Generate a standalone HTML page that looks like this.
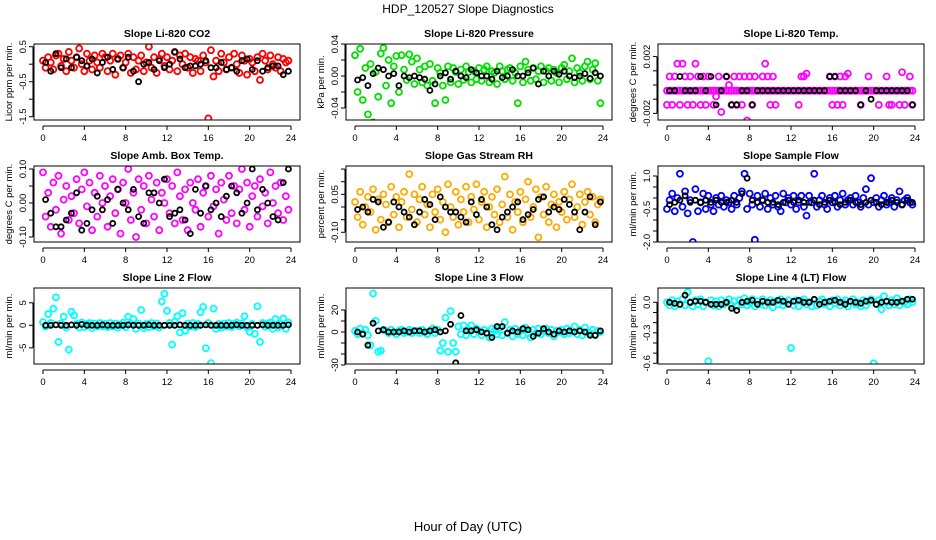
<!DOCTYPE html>
<html><head><meta charset="utf-8"><style>
html,body{margin:0;padding:0;background:#fff;}
svg{display:block;font-family:"Liberation Sans",sans-serif;}
</style></head><body>
<svg id="chart" width="936" height="540" viewBox="0 0 936 540">
<text x="468" y="13" text-anchor="middle" font-size="12">HDP_120527  Slope Diagnostics</text>
<text x="468" y="531" text-anchor="middle" font-size="13">Hour of Day (UTC)</text>
</svg>
<script>
const panelTitles=["Slope Li-820 CO2","Slope Li-820 Pressure","Slope Li-820 Temp.","Slope Amb. Box Temp.","Slope Gas Stream RH","Slope Sample Flow","Slope Line 2 Flow","Slope Line 3 Flow","Slope Line 4 (LT) Flow"];
const yTitles=["Licor ppm per min.","kPa per min.","degrees C per min.","degrees C per min.","percent per min.","ml/min per min.","ml/min per min.","ml/min per min.","ml/min per min."];
const xTicks=[0,4,8,12,16,20,24];
const colorStep=0.25, blackStep=0.5;

const co2Col=[0.1,-0.1,0.2,0.05,-0.15,0.25,0.3,-0.05,0.15,-0.2,0.35,0.1,-0.1,0.2,0.45,0.0,-0.2,0.3,0.1,-0.15,0.25,0.05,-0.1,0.3,
0.2,-0.2,0.1,0.3,-0.3,0.15,0.25,-0.1,0.05,0.3,-0.25,0.2,-0.15,0.1,0.25,-0.2,0.05,0.5,-0.1,0.2,-0.25,0.15,0.3,-0.05,
0.2,-0.15,0.1,0.35,-0.2,0.25,0.0,0.3,-0.1,0.2,-0.25,0.15,0.1,-0.2,0.25,0.05,-1.55,0.4,-0.35,0.1,-0.2,0.3,0.05,-0.15,
0.2,-0.1,0.3,0.0,-0.25,0.25,0.1,-0.3,0.15,0.05,-0.2,0.2,-0.45,0.3,0.1,-0.15,0.25,0.0,-0.1,0.2,-0.2,0.15,0.05,0.1];
const co2Blk=[0.05,-0.2,0.3,-0.1,0.15,-0.1,0.2,0.1,-0.05,0.15,-0.25,0.05,0.2,-0.15,0.15,-0.1,0.2,-0.2,-0.5,0.0,0.05,-0.15,0.1,-0.1,0.0,0.35,0.15,-0.1,-0.05,-0.05,0.0,0.1,-0.1,-0.1,0.05,-0.15,-0.1,-0.2,0.1,0.15,-0.15,0.1,-0.2,-0.1,-0.05,-0.05,-0.3,-0.2];

const presCol=[0.026,-0.020,0.034,-0.030,0.010,-0.048,0.015,-0.058,0.005,-0.026,0.028,0.035,-0.012,0.020,-0.034,0.012,0.025,-0.02,0.026,0.008,-0.005,0.027,0.018,-0.01,
0.022,0.008,-0.008,0.012,-0.012,0.015,-0.006,-0.034,0.010,0.004,-0.012,-0.030,0.012,-0.008,0.010,0.005,-0.010,0.008,-0.005,0.012,0.005,-0.008,0.006,-0.004,
0.010,-0.006,0.008,0.012,-0.008,0.006,0.004,-0.010,0.012,0.006,-0.004,0.008,0.010,-0.006,0.004,-0.034,0.012,-0.008,0.018,0.008,-0.006,0.010,-0.004,0.006,
0.012,-0.008,0.006,0.010,-0.006,0.008,0.004,-0.008,0.010,0.014,-0.004,0.006,0.022,-0.008,0.010,0.004,-0.006,0.012,0.018,-0.004,0.008,0.016,-0.006,-0.034];
const presBlk=[-0.005,-0.002,-0.012,0.003,0.01,0.008,0.0,0.003,-0.012,0.0,-0.002,0.0,-0.002,-0.004,-0.018,-0.01,0.0,0.004,-0.004,0.006,0.0,-0.002,0.008,0.004,0.0,0.0,-0.004,0.006,-0.002,0.0,0.008,0.0,0.0,0.004,0.01,-0.01,0.006,0.0,0.006,0.002,0.006,0.0,-0.002,0.0,0.003,-0.003,0.004,0.0];

const tempColA=new Array(96).fill(-0.0004);
const tempColB=[-0.0014,0.0006,-0.0014,0.0006,0.0015,-0.0014,0.0015,0.0006,-0.0014,0.0006,-0.0014,0.0015,0.0006,-0.0014,0.0006,-0.0014,0.0006,null,-0.0014,-0.0008,0.0006,-0.0019,0.0033,0.0006,
0.0,-0.0014,0.0006,-0.0014,0.0006,-0.0014,0.0006,-0.0025,0.0006,-0.0014,0.0006,null,null,0.0006,0.0015,0.0006,-0.0014,0.0006,-0.0014,null,null,null,null,null,
null,null,null,-0.0014,0.0006,0.0006,0.0008,null,null,null,null,null,null,null,null,0.0006,-0.0014,0.0006,-0.0014,0.0006,-0.0014,0.0006,0.0008,null,
null,null,null,-0.0014,null,null,0.0006,null,null,null,-0.0014,null,null,0.0006,-0.0014,-0.0014,null,null,-0.0014,0.0009,-0.0014,null,0.0006,-0.0014];
const tempBlk=[-0.0004,-0.0004,0.0006,-0.0004,-0.0004,-0.0004,0.0006,-0.0004,0.0006,-0.0014,-0.0004,0.0006,-0.0014,-0.0014,-0.0004,-0.0004,-0.0014,-0.0004,-0.0004,-0.0004,-0.0004,-0.0004,-0.0004,-0.0004,-0.0004,-0.0004,-0.0004,-0.0004,-0.0004,-0.0004,-0.0004,0.0006,0.0006,-0.0004,-0.0004,-0.0004,-0.0004,-0.0014,-0.0004,-0.0010,-0.0004,-0.0004,-0.0004,-0.0004,-0.0004,-0.0004,-0.0004,-0.0014];

const ambCol=[0.09,-0.04,0.03,-0.07,0.06,-0.02,0.08,-0.09,0.01,0.05,-0.05,0.02,-0.03,0.07,-0.06,0.04,0.09,-0.01,0.06,-0.08,0.03,-0.04,0.08,0.0,
0.05,-0.07,0.02,0.07,-0.03,0.04,-0.09,0.06,0.0,0.1,-0.05,0.03,-0.1,0.07,-0.02,0.05,-0.06,0.08,0.01,-0.04,0.06,-0.08,0.03,0.0,
0.07,-0.03,0.05,-0.06,0.09,0.02,-0.05,0.04,-0.08,0.06,0.0,-0.02,0.07,-0.07,0.03,0.05,-0.04,0.08,-0.01,0.04,-0.09,0.06,0.01,-0.05,
0.08,-0.03,0.05,-0.06,0.04,0.1,-0.02,0.06,-0.07,0.02,0.05,-0.04,0.07,-0.01,0.03,-0.06,0.09,0.0,0.05,-0.03,0.06,-0.05,0.02,-0.02];
const ambBlk=[0.01,-0.03,-0.07,-0.07,-0.05,-0.03,0.03,-0.08,-0.06,-0.02,0.02,-0.02,0.01,-0.06,0.04,0.0,-0.02,0.04,-0.04,-0.06,0.03,0.03,0.0,0.07,-0.04,-0.03,-0.02,-0.05,-0.09,0.04,-0.03,0.05,-0.02,0.0,-0.04,0.02,0.05,0.03,-0.03,0.0,0.1,-0.02,0.04,0.0,-0.04,-0.05,0.06,0.1];

const rhCol=[0.02,-0.04,0.06,-0.07,0.0,0.04,-0.02,0.07,-0.09,0.03,-0.05,0.05,0.01,-0.06,0.08,-0.03,0.04,-0.08,0.02,0.06,-0.04,0.13,-0.01,0.05,
-0.06,0.03,0.08,-0.03,0.01,-0.08,0.05,-0.02,0.07,-0.05,0.02,-0.1,0.09,0.0,-0.04,0.06,-0.07,0.03,-0.02,0.08,-0.06,0.04,-0.01,0.09,
-0.05,0.02,0.06,-0.08,0.0,0.04,-0.03,0.07,-0.06,0.01,0.12,-0.04,0.05,-0.09,0.02,-0.02,0.06,-0.06,0.03,0.1,-0.04,0.0,0.07,-0.12,
0.04,-0.03,0.08,-0.06,0.01,0.05,-0.08,0.02,-0.02,0.06,-0.05,0.03,0.09,-0.04,0.0,0.05,-0.07,0.02,0.06,-0.03,0.04,-0.06,0.01,0.03];
const rhBlk=[-0.01,0.0,-0.02,0.03,0.02,-0.08,-0.06,0.02,0.0,-0.02,-0.04,-0.07,-0.02,0.03,0.01,-0.05,0.04,0.0,-0.02,-0.02,-0.04,-0.06,0.02,-0.03,0.03,0.0,-0.07,-0.09,-0.04,-0.02,0.0,0.02,-0.05,-0.03,-0.01,0.03,0.04,-0.02,0.0,-0.01,0.03,0.01,-0.02,-0.09,-0.02,0.04,-0.07,0.02];

const sfCol=[-0.5,-0.1,0.2,-0.6,0.0,1.1,-0.4,0.3,-0.7,-0.1,-2.0,0.4,-0.6,-0.2,0.2,-0.5,0.1,-0.3,-0.6,0.0,-0.3,0.1,-0.4,-0.1,
-0.2,-0.5,0.1,-0.3,0.0,0.3,1.1,-0.5,0.2,-0.3,-1.9,0.1,-0.4,-0.1,0.2,-0.5,0.0,-0.3,0.1,-0.4,-0.6,0.2,-0.2,0.0,
-0.3,0.1,-0.5,-0.2,0.1,-0.4,-0.8,0.1,-0.2,1.1,-0.4,-0.1,0.1,-0.3,-0.5,0.0,-0.2,0.1,-0.4,-0.1,0.2,-0.3,-0.1,0.0,
-0.3,0.1,-0.2,-0.4,0.0,0.4,-0.3,0.9,-0.2,0.0,-0.4,-0.1,0.1,-0.3,-0.2,0.0,-0.4,-0.1,0.3,-0.3,-0.1,0.0,-0.2,-0.3];
const sfBlk=[-0.3,-0.2,-0.1,0.1,-0.2,-0.1,-0.2,-0.1,-0.2,-0.1,-0.2,-0.2,-0.1,-0.2,0.2,0.9,-0.1,-0.2,-0.1,-0.2,-0.2,-0.3,-0.2,-0.1,-0.2,-0.1,-0.2,-0.2,-0.1,-0.3,-0.2,-0.1,-0.2,-0.3,-0.2,-0.1,-0.2,-0.3,-0.2,-0.1,-0.2,-0.3,-0.2,-0.1,-0.2,-0.3,-0.1,-0.2];

const l2Col=[0.7,-0.3,2.5,0.5,3.7,6.2,-3.7,0.4,1.9,-0.5,-5.4,3.0,2.2,0.3,-0.5,0.6,-0.4,0.3,0.5,-0.6,0.4,-0.3,0.5,-0.2,
0.3,-0.4,0.5,-0.3,0.4,-0.5,0.2,0.6,-0.4,1.9,0.3,1.4,-0.8,0.4,3.4,-0.6,0.3,-0.4,0.5,-0.2,0.4,-0.5,5.3,7.0,
3.2,0.5,-4.3,0.8,2.0,-1.6,2.7,-1.2,0.4,-0.3,0.5,-0.4,0.3,2.9,4.1,-5.1,0.5,-8.4,3.7,-0.8,0.3,-0.5,0.4,-0.3,
0.5,-0.4,0.3,0.6,-0.2,0.4,2.0,-0.5,-1.5,0.3,-1.9,4.2,-3.7,0.5,-0.3,0.4,0.6,-0.8,1.4,-0.5,0.3,1.5,-0.8,0.6];
const l2Blk=[0,0,0.1,0,0,0.1,0,0.2,0,0,0,0.1,0,0,0,0,0.1,0,0,0,0.1,0,0,0,0,0,0.1,0,0,0,0,0.1,0,0,0,0,0,0.1,0,0,0,0,0.1,0,0,0,0,0.1];

const l3Col=[1,-2,3,-1,2,-3,-12,35,10,-18,-17,2,1,-1,2,0,-2,1,2,-1,0,2,-1,1,
1,-1,2,0,-2,1,3,-1,2,-17,-10,13,-18,19,-10,-18,5,-2,6,-3,2,6,-2,3,
1,-3,2,-1,-5,3,1,-2,4,-3,9,-1,2,-4,3,-2,1,-3,4,-1,-5,2,-1,3,
-2,1,3,-1,2,-4,1,0,2,-2,3,-1,1,5,-2,2,-3,4,0,-1,2,-3,1,0];
const l3Blk=[0,-2,-12,8,1,2,0,0,0,1,0,1,1,0,1,2,0,1,7,-28,15,1,1,2,0,-1,-5,5,5,-1,1,0,3,2,-4,-1,3,0,-2,1,0,1,0,1,0,-3,-3,1];

const l4Col=[0.0,-0.03,0.02,-0.04,0.01,-0.02,0.03,-0.03,0.1,0.0,-0.04,0.02,-0.02,0.03,-0.04,0.0,-0.58,0.02,-0.03,0.01,-0.04,0.02,-0.02,0.0,
0.03,-0.03,0.01,-0.04,0.02,-0.02,0.04,-0.03,0.0,0.03,-0.04,0.01,-0.02,0.03,-0.03,0.0,0.02,-0.05,0.01,-0.02,0.03,-0.03,0.0,0.02,
-0.45,-0.03,0.02,-0.04,0.01,0.03,-0.02,0.0,-0.04,0.02,-0.03,0.01,0.03,-0.02,0.0,-0.04,0.02,-0.01,0.03,-0.03,0.0,0.02,-0.04,0.01,
0.03,-0.02,0.0,-0.04,0.02,-0.03,0.01,0.03,-0.6,-0.02,0.02,-0.07,0.06,0.0,-0.03,0.02,-0.02,0.04,-0.03,0.01,0.0,-0.02,0.03,0.0];
const l4Blk=[0.0,-0.01,-0.02,0.07,0.0,0.01,0.01,0.0,-0.02,-0.02,-0.02,0.0,-0.06,-0.08,0.0,0.01,0.02,-0.02,0.01,0.0,0.0,0.02,0.01,-0.02,0.01,0.02,0.0,0.0,0.03,-0.02,0.0,0.01,0.02,0.0,-0.02,0.01,0.0,-0.01,0.01,0.02,-0.02,0.0,0.01,0.0,0.0,0.01,0.03,0.03];

const yTicks=[[0.5,0,-0.5,-1,-1.5],[0.04,0.02,0,-0.02,-0.04],[0.002,0.001,0,-0.001,-0.002],[0.1,0.05,0,-0.05,-0.1],[0.15,0.1,0.05,0,-0.05,-0.1],[1,0.5,0,-0.5,-1,-1.5,-2],[5,0,-5],[20,10,0,-10,-20,-30],[0,-0.1,-0.2,-0.3,-0.4,-0.5,-0.6]];
const yLabels=[["0.5","","-0.5","","-1.5"],["0.04","","0.00","","-0.04"],["0.002","","","","-0.002"],["0.10","","0.00","","-0.10"],["","","0.05","","","-0.10"],["1.0","","","-0.5","","","-2.0"],["5","0","-5"],["20","","0","","","-30"],["0.0","","","-0.3","","","-0.6"]];
</script>
<script>
const svg=document.getElementById('chart');
const NS='http://www.w3.org/2000/svg';
function mk(tag,attrs,parent){const e=document.createElementNS(NS,tag);for(const k in attrs)e.setAttribute(k,attrs[k]);(parent||svg).appendChild(e);return e;}
const yCal=[[0.5,46.7,35],[0,76,800],[0,85,14200],[0,203,340],[0,207,253],[0,198,22],[0,325.3,4.5],[0,332,1.1],[0,302.3,101.7]];
const colLeft=[34,346,658], rowTop=[44,166,288], W=266, H=76;
const series=[
 [[co2Col,'#ff0000']],[[presCol,'#00e000']],[[tempColA,'#ff00ff'],[tempColB,'#ff00ff']],
 [[ambCol,'#ff00ff']],[[rhCol,'#ffaa00']],[[sfCol,'#0000ff']],
 [[l2Col,'#00ffff']],[[l3Col,'#00ffff']],[[l4Col,'#00ffff']]];
const blacks=[co2Blk,presBlk,tempBlk,ambBlk,rhBlk,sfBlk,l2Blk,l3Blk,l4Blk];
for(let p=0;p<9;p++){
  const L=colLeft[p%3], T=rowTop[Math.floor(p/3)];
  const xs=h=>L+9+h*(248/24);
  const c=yCal[p]; const ys=v=>c[1]-(v-c[0])*c[2];
  const g=mk('g',{});
  
  
  const t=mk('text',{x:L+W/2,y:T-7,'text-anchor':'middle','font-size':'10.5','font-weight':'bold'},g);
  t.textContent=panelTitles[p];
  
  
  const yt=mk('text',{transform:`translate(${L-22},${T+H/2}) rotate(-90)`,'text-anchor':'middle','font-size':'9.5'},g);
  yt.textContent=yTitles[p];
  
  
  mk('line',{x1:xs(0),x2:xs(24),y1:T+H+6,y2:T+H+6,stroke:'#000'},g);
  xTicks.forEach(h=>{
    mk('line',{x1:xs(h),x2:xs(h),y1:T+H+6,y2:T+H+10,stroke:'#000'},g);
    const lt=mk('text',{x:xs(h),y:T+H+21,'text-anchor':'middle','font-size':'9.5'},g);
    lt.textContent=String(h);
    
    
  });
  const tk=yTicks[p];
  mk('line',{x1:L-1,x2:L-1,y1:ys(tk[0]),y2:ys(tk[tk.length-1]),stroke:'#000'},g);
  tk.forEach((v,i)=>{
    const y=ys(v);
    mk('line',{x1:L-5,x2:L-1,y1:y,y2:y,stroke:'#000'},g);
    if(yLabels[p][i]){
      const lt=mk('text',{transform:`translate(${L-8},${y}) rotate(-90)`,'text-anchor':'middle','font-size':'9.5'},g);
      lt.textContent=yLabels[p][i];
      
      
    }
  });
  const clip=mk('clipPath',{id:'cp'+p},g);
  mk('rect',{x:L,y:T,width:W,height:H},clip);
  const pts=mk('g',{'clip-path':`url(#cp${p})`},g);
  series[p].forEach(([arr,col])=>{
    arr.forEach((v,i)=>{
      if(v===null)return;
      const cc=mk('circle',{cx:xs(i*colorStep),cy:ys(v),r:3,fill:'none',stroke:col,'stroke-width':1.8},pts);
      
      
    });
  });
  blacks[p].forEach((v,i)=>{
    const cc=mk('circle',{cx:xs(i*blackStep+0.25),cy:ys(v),r:2.5,fill:'none',stroke:'#000','stroke-width':1.8},pts);
    
    
  });
  mk('rect',{x:L,y:T,width:W,height:H,fill:'none',stroke:'#000','stroke-width':1},g);
}
</script>
</body></html>
